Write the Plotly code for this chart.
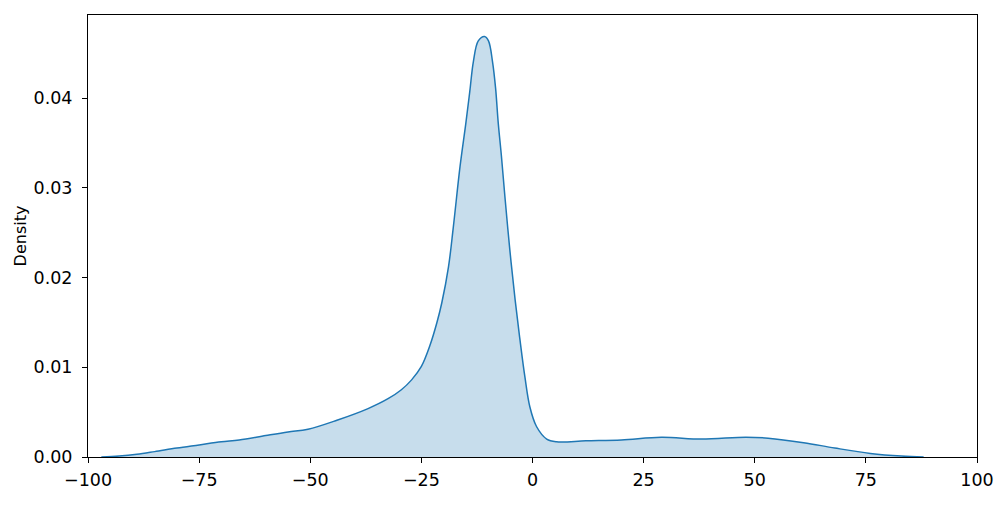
import plotly.graph_objects as go

x_vals = [-97, -93, -89, -85, -80, -75, -70, -66, -60, -55, -50.5, -44, -37, -32.5, -29.5, -27.2,
          -25, -23.1, -21.5, -20.4, -18.9, -17.8, -16.3, -15.0, -14.1, -13.3, -12.2, -10.8, -9.9,
          -9.0, -8.3, -7.7, -7.0, -6.2, -5.1, -3.9, -2.8, -1.7, -0.6, 0.9, 3.2, 5.4, 12, 20, 29,
          38, 48, 53, 61, 68, 76, 83, 88]
density = [0, 0.0001, 0.0003, 0.0006, 0.0010, 0.00135, 0.0017, 0.0019, 0.0024, 0.0028, 0.0031,
           0.0041, 0.0054, 0.0065, 0.0075, 0.0086, 0.0101, 0.0124, 0.0150, 0.0172, 0.0212,
           0.0257, 0.0324, 0.0372, 0.0408, 0.0441, 0.0464, 0.0469, 0.0464, 0.0441, 0.0411,
           0.0372, 0.0336, 0.0290, 0.0231, 0.0175, 0.0130, 0.0089, 0.0056, 0.0034, 0.0020,
           0.0017, 0.0018, 0.0019, 0.0022, 0.0020, 0.0022, 0.0021, 0.0016, 0.0010, 0.0004,
           0.0001, 0]

x_ticks = [-100, -75, -50, -25, 0, 25, 50, 75, 100]
y_ticks = [0.00, 0.01, 0.02, 0.03, 0.04]

fig = go.Figure()
fig.add_trace(go.Scatter(
    x=x_vals, y=density, mode="lines",
    line=dict(color="#1f77b4", width=1.5, shape="spline", smoothing=1.0),
    fill="tozeroy", fillcolor="rgba(31,119,180,0.25)",
    showlegend=False, hoverinfo="skip",
))

font = dict(family="DejaVu Sans", size=17.5, color="black")
axis_common = dict(
    showline=True, mirror=True, linecolor="black", linewidth=1,
    ticks="outside", ticklen=5, tickwidth=1, tickcolor="black",
    showgrid=False, zeroline=False, tickfont=font,
)

fig.update_layout(
    width=998, height=499,
    margin=dict(l=80, r=29, t=7, b=50),
    paper_bgcolor="white", plot_bgcolor="white",
    xaxis=dict(range=[-100, 100], tickvals=x_ticks, ticklabelstandoff=2, **axis_common),
    yaxis=dict(range=[0, 0.04929], tickvals=y_ticks, tickformat=".2f", ticklabelstandoff=6,
               title=dict(text="Density", font=dict(family="DejaVu Sans", size=16, color="black"),
                          standoff=2),
               **axis_common),
)

fig.write_html("out.html")
